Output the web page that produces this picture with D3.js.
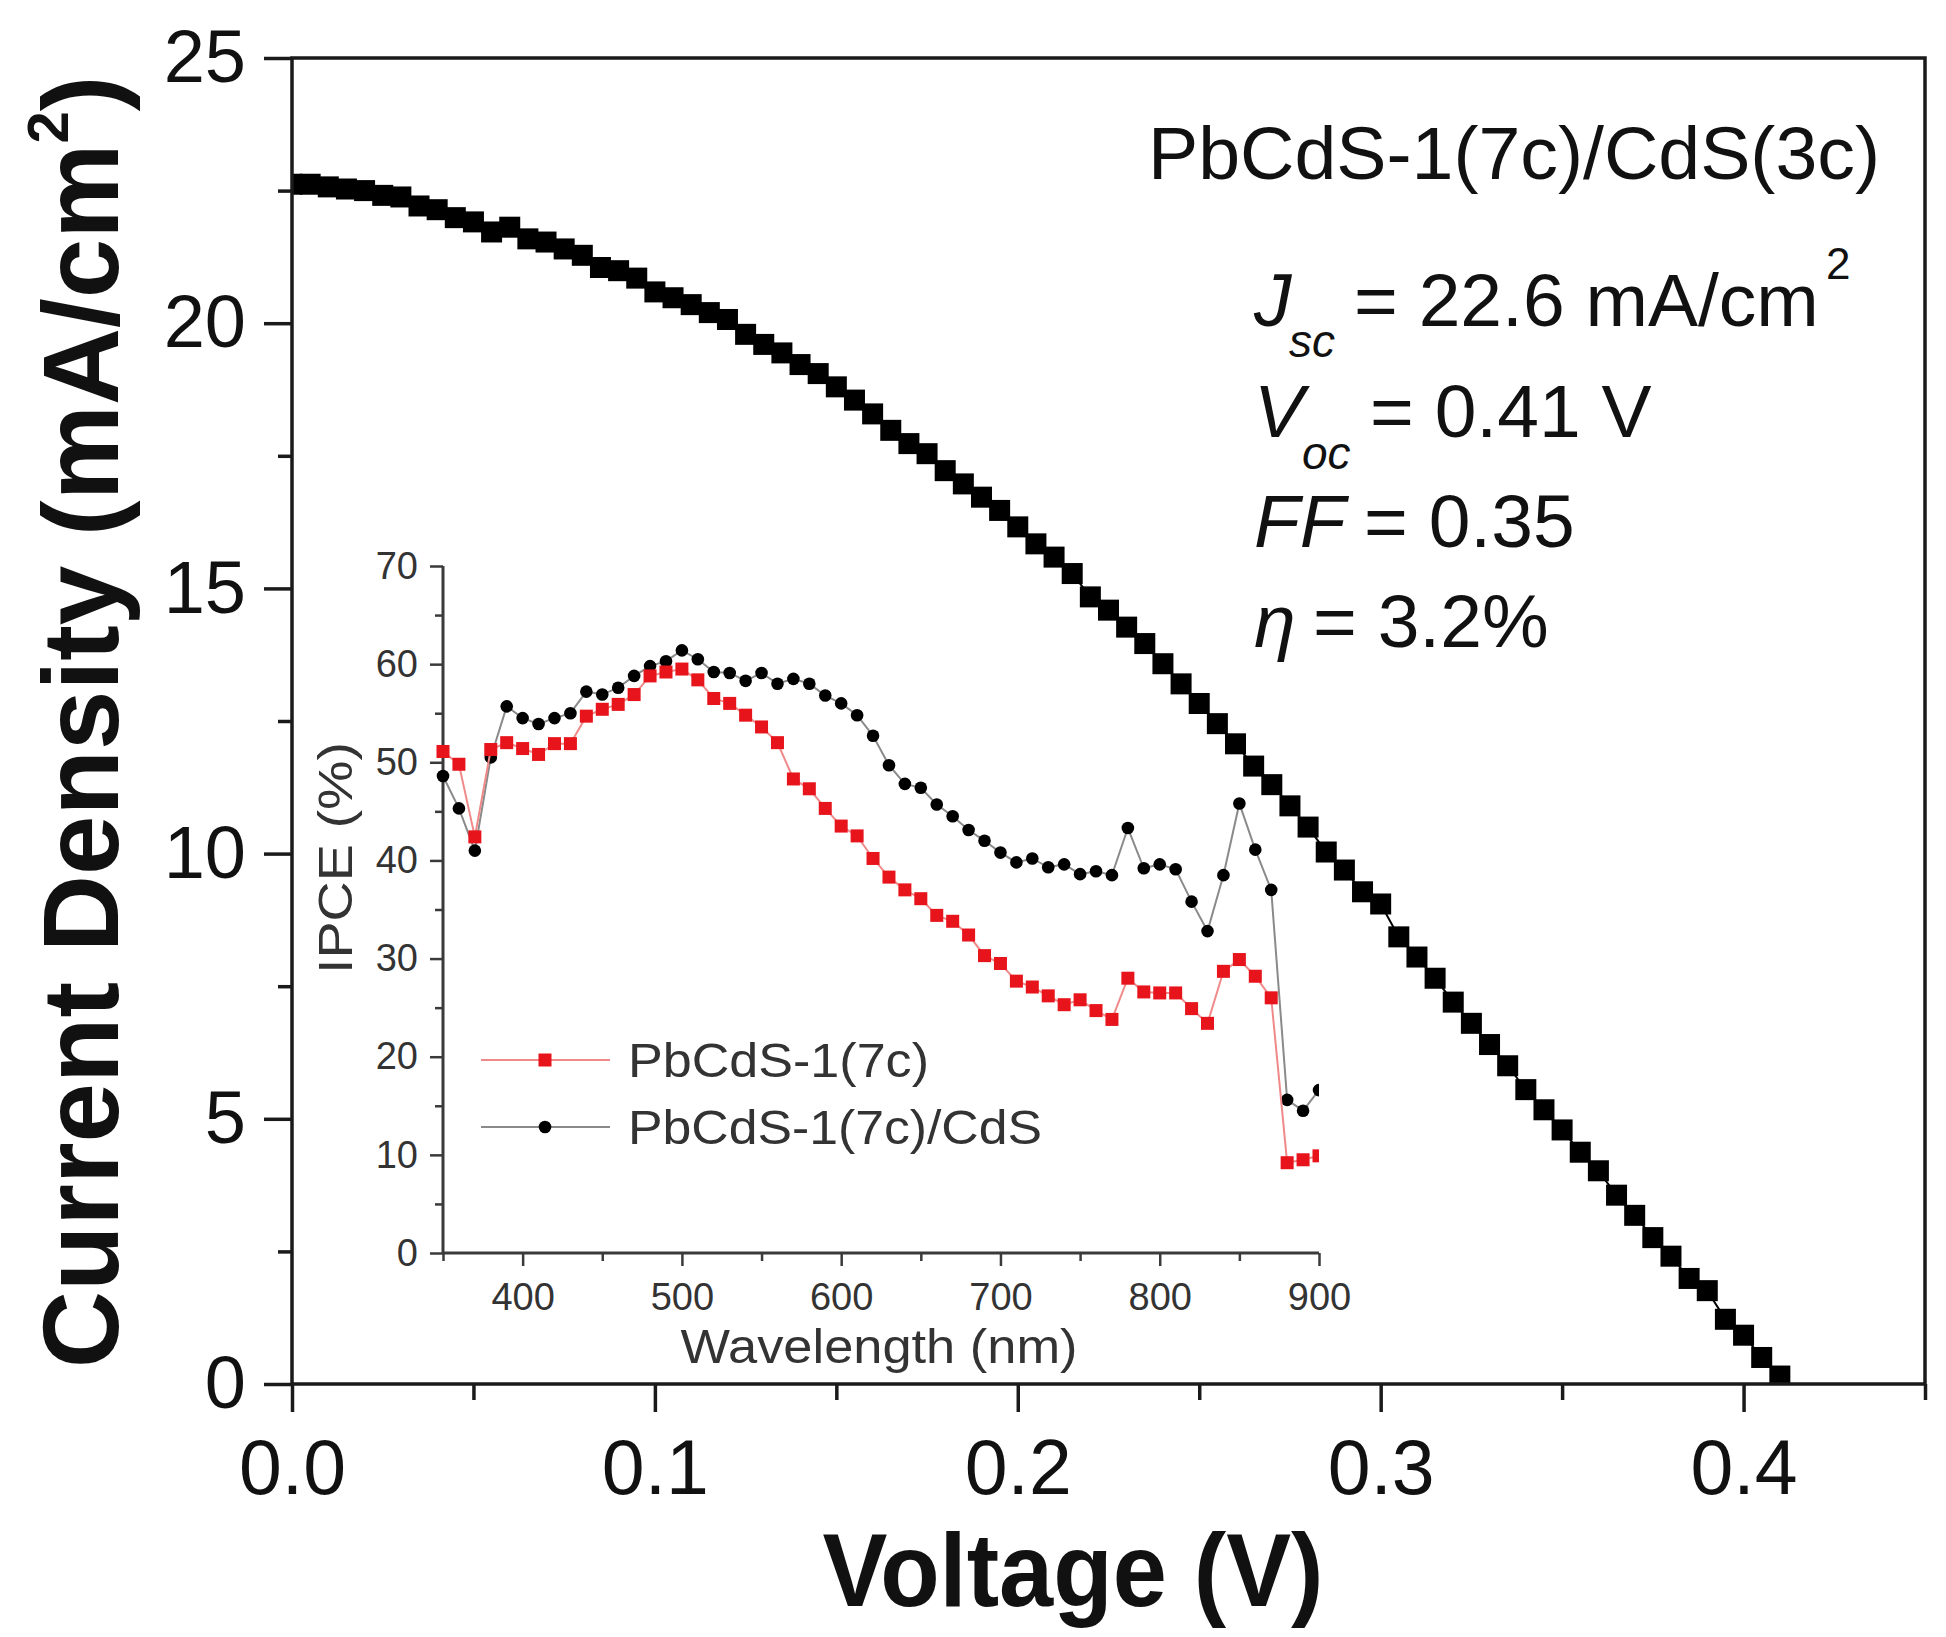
<!DOCTYPE html>
<html><head><meta charset="utf-8">
<script src="https://cdn.jsdelivr.net/npm/d3@7"></script>
<style>
body{margin:0;background:#fff}
text{font-family:"Liberation Sans",Arial,Helvetica,sans-serif}
</style>
</head><body>
<svg id="chart" width="1946" height="1637"></svg>
<script>
// ---------- main J-V data ----------
const voltage = [0.000,0.005,0.010,0.015,0.020,0.025,0.030,0.035,0.040,0.045,0.050,0.055,0.060,0.065,0.070,0.075,0.080,0.085,0.090,0.095,
0.100,0.105,0.110,0.115,0.120,0.125,0.130,0.135,0.140,0.145,0.150,0.155,0.160,0.165,0.170,0.175,0.180,0.185,0.190,0.195,
0.200,0.205,0.210,0.215,0.220,0.225,0.230,0.235,0.240,0.245,0.250,0.255,0.260,0.265,0.270,0.275,0.280,0.285,0.290,0.295,
0.300,0.305,0.310,0.315,0.320,0.325,0.330,0.335,0.340,0.345,0.350,0.355,0.360,0.365,0.370,0.375,0.380,0.385,0.390,0.395,
0.400,0.405,0.410];
const currentDensity = [22.62,22.62,22.57,22.53,22.50,22.41,22.38,22.21,22.14,21.99,21.91,21.72,21.81,21.59,21.53,21.40,21.28,21.05,20.99,20.85,
20.59,20.48,20.35,20.20,20.07,19.79,19.60,19.44,19.22,19.05,18.80,18.55,18.29,17.98,17.73,17.54,17.22,16.97,16.72,16.47,
16.16,15.84,15.59,15.28,14.84,14.59,14.27,13.96,13.58,13.20,12.83,12.45,12.07,11.65,11.30,10.90,10.50,10.03,9.69,9.28,
9.05,8.43,8.05,7.65,7.20,6.80,6.40,6.00,5.55,5.17,4.79,4.37,4.02,3.56,3.18,2.76,2.41,1.99,1.76,1.22,
0.92,0.50,0.15];
const xTicks = [0, 0.1, 0.2, 0.3, 0.4];
const xMinorTicks = [0.05, 0.15, 0.25, 0.35, 0.45];
const yTicks = [0, 5, 10, 15, 20, 25];
const yMinorTicks = [2.5, 7.5, 12.5, 17.5, 22.5];

// ---------- inset IPCE data ----------
const wavelength = [350,360,370,380,390,400,410,420,430,440,450,460,470,480,490,500,510,520,530,540,550,560,570,580,590,600,
610,620,630,640,650,660,670,680,690,700,710,720,730,740,750,760,770,780,790,800,810,820,830,840,850,860,870,880,890,900];
const ipcePbCdS = [51.1,49.8,42.4,51.3,52.0,51.4,50.8,51.9,51.9,54.7,55.4,55.9,56.9,58.8,59.2,59.5,58.4,56.5,56.0,54.8,53.6,52.0,48.3,47.3,45.3,43.5,
42.5,40.2,38.3,37.0,36.1,34.4,33.8,32.4,30.3,29.5,27.7,27.1,26.2,25.3,25.8,24.7,23.8,28.0,26.6,26.5,26.5,24.9,23.4,28.7,29.9,28.2,26.0,9.2,9.5,9.9];
const ipcePbCdSCdS = [48.6,45.3,41.0,50.5,55.7,54.5,53.9,54.5,55.0,57.2,56.9,57.6,58.8,59.8,60.3,61.4,60.5,59.2,59.1,58.3,59.1,58.0,58.5,58.0,56.8,56.0,
54.8,52.7,49.7,47.8,47.4,45.7,44.5,43.1,42.0,40.8,39.8,40.2,39.3,39.6,38.6,38.9,38.5,43.3,39.2,39.6,39.1,35.8,32.8,38.5,45.8,41.1,37.0,15.6,14.5,16.6];
const insetXTicks = [400, 500, 600, 700, 800, 900];
const insetXMinorTicks = [350, 450, 550, 650, 750, 850];
const insetYTicks = [0, 10, 20, 30, 40, 50, 60, 70];
const insetYMinorTicks = [5, 15, 25, 35, 45, 55, 65];
const seriesNames = ["PbCdS-1(7c)", "PbCdS-1(7c)/CdS"];

const svg = d3.select("#chart");

// ---------- main scales ----------
const L = 292, R = 1925, T = 58, B = 1384;
const x = d3.scaleLinear().domain([0, 0.45]).range([L, R]);
const y = d3.scaleLinear().domain([0, 25]).range([B, T]);

svg.append("defs").append("clipPath").attr("id", "mainClip")
  .append("rect").attr("x", L).attr("y", T).attr("width", R - L).attr("height", B - T);

// data squares
const main = svg.append("g").attr("clip-path", "url(#mainClip)");
const jv = voltage.map((v, i) => ({v, j: currentDensity[i]}));
main.append("path").datum(jv)
  .attr("fill", "none").attr("stroke", "#000").attr("stroke-width", 2)
  .attr("d", d3.line().x(d => x(d.v)).y(d => y(d.j)));
const sq = 21;
main.selectAll("rect.jv").data(jv).join("rect").attr("class", "jv")
  .attr("x", d => x(d.v) - sq / 2).attr("y", d => y(d.j) - sq / 2)
  .attr("width", sq).attr("height", sq).attr("fill", "#000");

// frame
svg.append("rect").attr("x", L).attr("y", T).attr("width", R - L).attr("height", B - T)
  .attr("fill", "none").attr("stroke", "#1a1a1a").attr("stroke-width", 3.5);

function styleAxis(g, sw, color) {
  g.select(".domain").remove();
  g.selectAll(".tick line").attr("stroke", color).attr("stroke-width", sw);
}

// main x axis
const gx = svg.append("g").attr("transform", `translate(0,${B})`)
  .call(d3.axisBottom(x).tickValues(xTicks).tickSize(28).tickPadding(27).tickFormat(d3.format(".1f")));
styleAxis(gx, 3.5, "#1a1a1a");
gx.selectAll("text").attr("font-size", 77).attr("fill", "#111");
const gxm = svg.append("g").attr("transform", `translate(0,${B})`)
  .call(d3.axisBottom(x).tickValues(xMinorTicks).tickSize(16).tickFormat(""));
styleAxis(gxm, 3.5, "#1a1a1a");

// main y axis
const gy = svg.append("g").attr("transform", `translate(${L},0)`)
  .call(d3.axisLeft(y).tickValues(yTicks).tickSize(28).tickPadding(18).tickFormat(d3.format("d")));
styleAxis(gy, 3.5, "#1a1a1a");
gy.selectAll("text").attr("font-size", 74).attr("fill", "#111");
const gym = svg.append("g").attr("transform", `translate(${L},0)`)
  .call(d3.axisLeft(y).tickValues(yMinorTicks).tickSize(14).tickFormat(""));
styleAxis(gym, 3.5, "#1a1a1a");

// axis titles
svg.append("text").attr("x", 1073).attr("y", 1606).attr("text-anchor", "middle")
  .attr("font-size", 104).attr("font-weight", "bold").attr("fill", "#111")
  .attr("textLength", 501).attr("lengthAdjust", "spacingAndGlyphs")
  .text("Voltage (V)");
const yl = svg.append("text").attr("transform", "translate(118,722) rotate(-90)")
  .attr("text-anchor", "middle").attr("font-size", 107).attr("font-weight", "bold").attr("fill", "#111");
yl.append("tspan").text("Current Density (mA/cm");
yl.append("tspan").attr("font-size", 58).attr("dy", -50).text("2");
yl.append("tspan").attr("dy", 50).text(")");

// annotation block
const ann = svg.append("g").attr("fill", "#111");
ann.append("text").attr("x", 1148).attr("y", 179).attr("font-size", 75)
  .attr("textLength", 732).attr("lengthAdjust", "spacingAndGlyphs").text("PbCdS-1(7c)/CdS(3c)");
ann.append("text").attr("x", 1254).attr("y", 326).attr("font-size", 75).attr("font-style", "italic").text("J");
ann.append("text").attr("x", 1289).attr("y", 357).attr("font-size", 46).attr("font-style", "italic").text("sc");
ann.append("text").attr("x", 1354).attr("y", 326).attr("font-size", 75).text("= 22.6 mA/cm");
ann.append("text").attr("x", 1826).attr("y", 279).attr("font-size", 44).text("2");
ann.append("text").attr("x", 1254).attr("y", 437).attr("font-size", 75).attr("font-style", "italic").text("V");
ann.append("text").attr("x", 1302).attr("y", 469).attr("font-size", 46).attr("font-style", "italic").text("oc");
ann.append("text").attr("x", 1370).attr("y", 437).attr("font-size", 75).text("= 0.41 V");
ann.append("text").attr("x", 1254).attr("y", 547).attr("font-size", 75).attr("font-style", "italic").text("FF");
ann.append("text").attr("x", 1364).attr("y", 547).attr("font-size", 75).text("= 0.35");
ann.append("text").attr("x", 1254).attr("y", 647).attr("font-size", 75).attr("font-style", "italic").text("η");
ann.append("text").attr("x", 1313).attr("y", 647).attr("font-size", 75).text("= 3.2%");

// ---------- inset ----------
const iL = 443, iR = 1319, iT = 566, iB = 1253;
const xi = d3.scaleLinear().domain([350, 900]).range([iL, iR]);
const yi = d3.scaleLinear().domain([0, 70]).range([iB, iT]);
svg.select("defs").append("clipPath").attr("id", "insetClip")
  .append("rect").attr("x", iL - 10).attr("y", iT - 20).attr("width", iR - iL + 10).attr("height", iB - iT + 20);

const axisColor = "#3a3a3a";
const gxi = svg.append("g").attr("transform", `translate(0,${iB})`)
  .call(d3.axisBottom(xi).tickValues(insetXTicks).tickSize(13).tickPadding(17).tickFormat(d3.format("d")));
styleAxis(gxi, 2.5, axisColor);
gxi.selectAll("text").attr("font-size", 38).attr("fill", "#333");
const gxim = svg.append("g").attr("transform", `translate(0,${iB})`)
  .call(d3.axisBottom(xi).tickValues(insetXMinorTicks).tickSize(8).tickFormat(""));
styleAxis(gxim, 2.5, axisColor);
const gyi = svg.append("g").attr("transform", `translate(${iL},0)`)
  .call(d3.axisLeft(yi).tickValues(insetYTicks).tickSize(13).tickPadding(12).tickFormat(d3.format("d")));
styleAxis(gyi, 2.5, axisColor);
gyi.selectAll("text").attr("font-size", 38).attr("fill", "#333");
const gyim = svg.append("g").attr("transform", `translate(${iL},0)`)
  .call(d3.axisLeft(yi).tickValues(insetYMinorTicks).tickSize(8).tickFormat(""));
styleAxis(gyim, 2.5, axisColor);
svg.append("line").attr("x1", iL).attr("x2", iR).attr("y1", iB).attr("y2", iB)
  .attr("stroke", axisColor).attr("stroke-width", 3);
svg.append("line").attr("x1", iL).attr("x2", iL).attr("y1", iT).attr("y2", iB)
  .attr("stroke", axisColor).attr("stroke-width", 3);

svg.append("text").attr("x", 879).attr("y", 1363).attr("text-anchor", "middle")
  .attr("font-size", 48).attr("fill", "#333")
  .attr("textLength", 397).attr("lengthAdjust", "spacingAndGlyphs").text("Wavelength (nm)");
svg.append("text").attr("transform", "translate(352,858) rotate(-90)").attr("text-anchor", "middle")
  .attr("font-size", 48).attr("fill", "#333")
  .attr("textLength", 232).attr("lengthAdjust", "spacingAndGlyphs").text("IPCE (%)");

const inset = svg.append("g").attr("clip-path", "url(#insetClip)");
const blackData = wavelength.map((w, i) => ({w, v: ipcePbCdSCdS[i]}));
const redData = wavelength.map((w, i) => ({w, v: ipcePbCdS[i]}));
const lineI = d3.line().x(d => xi(d.w)).y(d => yi(d.v));
const redColor = "#e8141c", redLine = "#f08a8a", greyLine = "#8a8a8a";
inset.append("path").datum(blackData).attr("fill", "none").attr("stroke", greyLine).attr("stroke-width", 2).attr("d", lineI);
inset.selectAll("circle.b").data(blackData).join("circle").attr("class", "b")
  .attr("cx", d => xi(d.w)).attr("cy", d => yi(d.v)).attr("r", 6.3).attr("fill", "#000");
inset.append("path").datum(redData).attr("fill", "none").attr("stroke", redLine).attr("stroke-width", 2).attr("d", lineI);
const rs = 13;
inset.selectAll("rect.r").data(redData).join("rect").attr("class", "r")
  .attr("x", d => xi(d.w) - rs / 2).attr("y", d => yi(d.v) - rs / 2)
  .attr("width", rs).attr("height", rs).attr("fill", redColor);

// legend
const leg = svg.append("g");
const legRows = [
  {name: seriesNames[0], y: 1060, line: redLine, mark: "rect", len: 301},
  {name: seriesNames[1], y: 1127, line: greyLine, mark: "circle", len: 414}
];
legRows.forEach(r => {
  leg.append("line").attr("x1", 481).attr("x2", 610).attr("y1", r.y).attr("y2", r.y)
    .attr("stroke", r.line).attr("stroke-width", 2);
  if (r.mark === "rect") {
    leg.append("rect").attr("x", 545 - rs / 2).attr("y", r.y - rs / 2).attr("width", rs).attr("height", rs).attr("fill", redColor);
  } else {
    leg.append("circle").attr("cx", 545).attr("cy", r.y).attr("r", 6.3).attr("fill", "#000");
  }
  leg.append("text").attr("x", 628).attr("y", r.y + 17).attr("font-size", 48).attr("fill", "#333")
    .attr("textLength", r.len).attr("lengthAdjust", "spacingAndGlyphs").text(r.name);
});
</script>
</body></html>
